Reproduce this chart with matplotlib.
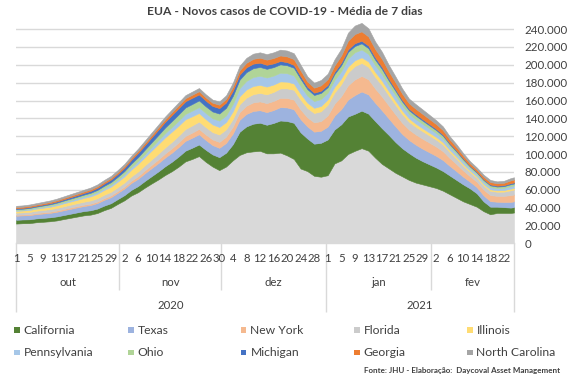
import matplotlib
matplotlib.use("Agg")
import matplotlib.pyplot as plt
from matplotlib.patches import Rectangle
import numpy as np
import pandas as pd

plt.rcParams['font.family'] = ['Lato', 'DejaVu Sans']

# ---------------- data (7-day average of new cases, thousands) ----------------
dates = list(pd.date_range("2020-10-01", "2021-02-24", freq="2D")) + [pd.Timestamp("2021-02-25")]

others = [22.1,22.5,22.6,23.6,24.1,24.7,25.6,27.1,28.5,29.9,31.3,32.1,33.9,37.1,39.7,44.1,
          48.2,53.5,57.2,62.3,67.0,71.5,76.5,80.8,85.9,91.8,94.5,97.7,91.3,86.0,82.0,
          86,93,99,102,103,103.6,100.8,100.8,101.6,98.5,94.5,83.8,80.9,75.6,74.6,
          76.3,89.5,92.9,100.1,103.6,106.6,103.8,96,89,84,79,75,71,68,66,64,
          62,59,55,51,47,44,41,36,32.5,34,34,34,34.5]
california = [4.2,4.2,4.3,4.3,4.4,4.4,4.5,4.5,4.6,4.7,4.8,4.9,5.0,5.1,5.2,5.4,
              5.8,6.3,6.9,7.5,8.2,9.0,9.8,10.6,11.4,12.0,12.6,13.0,13.5,13.6,14.5,
              15.5,18,26,29,31,31.5,32,34,36,38.5,40.5,40.5,36.5,36,38,
              40,38,40.5,42,41.5,42,41.5,41,40,37.5,34.5,31.5,30,28,26,24.5,
              23,22,21,20,19,17.5,15,11,8.5,7,6.5,6,6]
texas = [4.6,4.6,4.7,4.8,4.9,5.0,5.2,5.4,5.5,5.6,5.7,5.9,6.2,6.5,6.8,7.0,
         7.4,7.8,8.2,8.6,9.0,9.4,9.8,10.2,10.6,11.0,11.2,11.5,11.0,10.5,10.5,
         11.0,12.0,13.5,14.0,14.3,14.0,14.2,14.5,15.0,15.2,15.2,14.8,13.5,13.5,13.5,
         14.5,15.5,17,19,21,21.5,21.5,20.5,20,18.5,17.5,16,14.8,14.5,14,13.5,
         13,12.3,10.8,9.8,8.6,7.5,7.0,6.8,6.2,5.6,5.8,6.4,6.5]
new_york = [1.0,1.0,1.1,1.2,1.3,1.3,1.4,1.4,1.5,1.5,1.5,1.6,1.7,1.8,1.9,2.0,
            2.2,2.5,2.9,3.3,3.7,4.1,4.5,4.9,5.2,5.5,5.8,6.0,6.1,6.3,6.6,
            7.0,7.8,8.6,9.2,9.6,9.9,10.1,10.2,10.4,10.6,10.8,10.8,10.2,10.4,10.8,
            12.5,13.5,14.5,16,17.5,17.5,17,16,15.5,14.5,13.5,12.5,11.6,11.4,11.2,10.8,
            10.4,9.9,8.8,8.0,7.0,6.2,6.0,6.4,6.8,6.6,6.8,7.6,7.7]
florida = [2.4,2.4,2.5,2.6,2.7,2.8,2.9,3.0,3.1,3.2,3.3,3.5,3.7,3.9,4.1,4.3,
           4.5,4.8,5.2,5.6,6.0,6.4,6.8,7.2,7.5,7.8,8.0,8.2,8.3,8.2,8.3,
           8.2,8.5,8.8,9.0,9.2,9.5,9.8,10.1,10.5,10.8,11.0,11.0,10.5,10.5,11.0,
           12,12.5,13.5,14.5,15,14.5,14,13,12.5,11.3,10.6,9.6,8.8,8.6,8.4,8.1,
           7.8,7.4,6.6,6.0,5.3,4.6,4.4,4.6,4.8,4.6,4.8,5.4,5.5]
illinois = [2.0,2.1,2.2,2.3,2.5,2.8,3.0,3.3,3.5,3.8,4.2,4.6,5.0,5.4,5.8,6.2,
            6.9,7.7,8.6,9.2,10.0,10.8,11.3,11.5,11.3,10.9,10.3,9.6,9.0,8.6,8.4,
            8.2,8.6,9.0,9.2,9.2,9.0,8.7,8.3,7.9,7.5,7.1,6.7,6.0,5.8,6.0,
            6.0,6.3,6.5,6.6,6.5,6.3,6.0,5.6,5.3,4.9,4.6,4.2,3.8,3.6,3.4,3.2,
            3.0,2.8,2.5,2.3,2.0,1.8,1.7,1.7,1.7,1.6,1.7,1.9,1.9]
pennsylvania = [0.9,0.9,1.0,1.0,1.1,1.2,1.3,1.4,1.5,1.6,1.7,1.8,1.9,2.0,2.1,2.3,
                2.5,2.8,3.1,3.5,3.9,4.3,4.7,5.1,5.6,6.0,6.3,6.6,6.8,6.9,7.2,
                7.5,8.2,9.0,9.6,10.0,10.2,10.2,10.0,9.8,9.5,9.1,8.6,7.9,7.6,7.8,
                7.5,7.8,8.0,9.0,9.0,8.8,8.4,7.7,7.3,6.6,6.2,5.6,5.1,5.0,4.8,4.6,
                4.4,4.1,3.6,3.3,2.9,2.5,2.4,2.5,2.5,2.4,2.5,2.8,2.8]
ohio = [1.1,1.1,1.2,1.3,1.4,1.5,1.6,1.7,1.8,1.9,2.0,2.2,2.4,2.6,2.9,3.2,
        3.5,3.9,4.4,4.8,5.3,5.8,6.3,6.7,7.0,7.2,7.4,7.5,7.5,7.6,7.9,
        8.4,9.0,9.5,9.8,9.9,9.9,9.7,9.5,9.3,8.9,8.5,8.0,7.2,6.8,6.8,
        6.2,6.5,6.8,7.2,7.0,6.8,6.5,6.0,5.7,5.2,4.9,4.4,4.0,3.9,3.7,3.5,
        3.3,3.1,2.7,2.5,2.2,1.9,1.8,1.9,1.9,1.8,1.9,2.1,2.1]
michigan = [0.9,0.9,1.0,1.0,1.1,1.2,1.3,1.4,1.6,1.7,1.9,2.1,2.3,2.6,2.9,3.2,
            3.6,4.1,4.7,5.0,5.5,6.0,6.4,6.8,7.0,7.0,6.9,6.7,6.4,6.2,6.1,
            6.0,5.9,5.7,5.4,5.1,4.8,4.5,4.2,3.8,3.5,3.2,3.0,2.7,2.6,2.5,
            2.5,2.6,2.8,3.0,3.1,3.0,2.9,2.6,2.4,2.2,2.0,1.9,1.7,1.7,1.6,1.5,
            1.4,1.3,1.2,1.1,1.0,0.9,0.9,0.9,1.0,1.0,1.1,1.2,1.2]
georgia = [1.3,1.3,1.3,1.3,1.3,1.4,1.4,1.5,1.5,1.6,1.6,1.7,1.7,1.8,1.8,1.9,
           2.0,2.1,2.2,2.4,2.5,2.7,2.8,3.0,3.2,3.4,3.5,3.6,3.6,3.6,3.8,
           4.0,4.4,4.8,5.1,5.4,5.6,5.8,6.0,6.2,6.4,6.5,6.4,5.8,5.6,6.0,
           6.5,7.0,8.0,9.6,10.3,10.5,10.2,9.4,9.0,8.2,7.6,6.9,6.1,6.0,5.9,5.6,
           5.3,5.0,4.3,3.9,3.3,2.8,2.6,2.8,2.8,2.6,2.7,3.1,3.2]
north_carolina = [1.5,1.5,1.6,1.6,1.7,1.7,1.8,1.8,1.9,2.0,2.0,2.1,2.2,2.2,2.3,2.4,
                  2.4,2.5,2.6,2.8,2.9,3.0,3.1,3.2,3.3,3.4,3.5,3.6,3.5,3.5,3.7,
                  4.0,4.5,5.0,5.5,5.8,6.0,6.2,6.4,6.5,6.6,6.6,6.4,5.8,5.6,6.0,
                  6.0,6.8,7.5,9.0,9.5,9.5,9.2,8.4,8.0,7.2,6.6,5.9,5.2,5.2,5.0,4.7,
                  4.4,4.1,3.5,3.1,2.7,2.3,2.2,2.3,2.3,2.2,2.2,2.5,2.6]

state_names = ["California", "Texas", "New York", "Florida", "Illinois",
               "Pennsylvania", "Ohio", "Michigan", "Georgia", "North Carolina"]
state_values = [california, texas, new_york, florida, illinois,
                pennsylvania, ohio, michigan, georgia, north_carolina]
state_colors = ["#548235", "#9db3df", "#f5b98f", "#cbcbcb", "#ffdc73",
                "#a6c7e8", "#b0d497", "#4472c4", "#ed7d31", "#a5a5a5"]
others_color = "#d9d9d9"

month_labels = ["out", "nov", "dez", "jan", "fev"]
month_starts = ["2020-10-01", "2020-11-01", "2020-12-01", "2021-01-01", "2021-02-01"]
year_labels = ["2020", "2021"]
title = "EUA - Novos casos de COVID-19 - Média de 7 dias"
source = "Fonte: JHU - Elaboração:  Daycoval Asset Management"

# ---------------- layout ----------------
W, H = 567, 378
fig = plt.figure(figsize=(W / 100, H / 100), dpi=100)
AX_L, AX_R, AX_T, AX_B = 16, 514, 20.2, 243.3
ax = fig.add_axes([AX_L / W, 1 - AX_B / H, (AX_R - AX_L) / W, (AX_B - AX_T) / H])

TXT = "#404040"
GRID = "#d9d9d9"

t0 = dates[0]
x = np.array([(d - t0).days for d in dates], dtype=float)
ys = [np.array(others) * 1000] + [np.array(v) * 1000 for v in state_values]
cols = [others_color] + state_colors
polys = ax.stackplot(x, *ys, colors=cols, linewidth=0)
for p, c in zip(polys, cols):
    p.set_edgecolor(c)
    p.set_linewidth(0.4)

last_day = (pd.Timestamp("2021-02-25") - t0).days
ax.set_xlim(0, last_day)
ax.set_ylim(0, 250000)
ax.set_yticks(np.arange(0, 240001, 20000))
ax.yaxis.set_major_formatter(plt.FuncFormatter(lambda v, p: f"{int(v):,}".replace(",", ".")))
ax.yaxis.tick_right()
ax.tick_params(axis="y", length=0, pad=7.5, labelsize=8.3, labelcolor=TXT)
ax.yaxis.grid(True, color=GRID, linewidth=1.0)
ax.set_axisbelow(True)
ax.set_xticks([])
for s in ["top", "left", "right"]:
    ax.spines[s].set_visible(False)
ax.spines["bottom"].set_color(GRID)
ax.spines["bottom"].set_linewidth(1.0)

# ---------------- multi-level category axis ----------------
def ay(ypx):
    return (AX_B - ypx) / (AX_B - AX_T)

xt = ax.get_xaxis_transform()
tick_dates = pd.date_range("2020-10-01", "2021-02-22", freq="4D")
for td in tick_dates:
    ax.text((td - t0).days, ay(258.5), str(td.day), transform=xt, ha="center", va="center",
            fontsize=8.2, color=TXT, clip_on=False)

bounds = [(pd.Timestamp(m) - t0).days - 0.5 for m in month_starts] + [last_day]
bounds[0] = 0
for i, lab in enumerate(month_labels):
    ax.text((bounds[i] + bounds[i + 1]) / 2, ay(282), lab, transform=xt, ha="center",
            va="center", fontsize=8.2, color=TXT, clip_on=False)
year_bounds = [0, bounds[3], last_day]
for i, lab in enumerate(year_labels):
    ax.text((year_bounds[i] + year_bounds[i + 1]) / 2, ay(305.5), lab, transform=xt,
            ha="center", va="center", fontsize=8.2, color=TXT, clip_on=False)

for i, b in enumerate(bounds):
    long = i in (0, 3, 5)
    ax.plot([b, b], [0, ay(312 if long else 290)], transform=xt, color=GRID,
            linewidth=1.0, clip_on=False, solid_capstyle="butt")

# ---------------- legend ----------------
col_x = [14, 128, 241, 354, 467]
row_y = [330, 352.5]
sq = 5.5
for k, (name, c) in enumerate(zip(state_names, state_colors)):
    r, cidx = divmod(k, 5)
    mx, my = col_x[cidx], row_y[r]
    fig.patches.append(Rectangle((mx / W, 1 - (my + sq / 2) / H), sq / W, sq / H,
                                 transform=fig.transFigure, facecolor=c, edgecolor="none"))
    fig.text((mx + 9.5) / W, 1 - my / H, name, ha="left", va="center",
             fontsize=8.7, color=TXT)

fig.text(285 / W, 1 - 11.7 / H, title, ha="center", va="center", fontsize=8.7,
         fontweight="bold", color=TXT)
fig.text(560 / W, 1 - 370 / H, source, ha="right", va="center", fontsize=5.8,
         fontweight="bold", color=TXT)

fig.savefig("out.png", dpi=100)
